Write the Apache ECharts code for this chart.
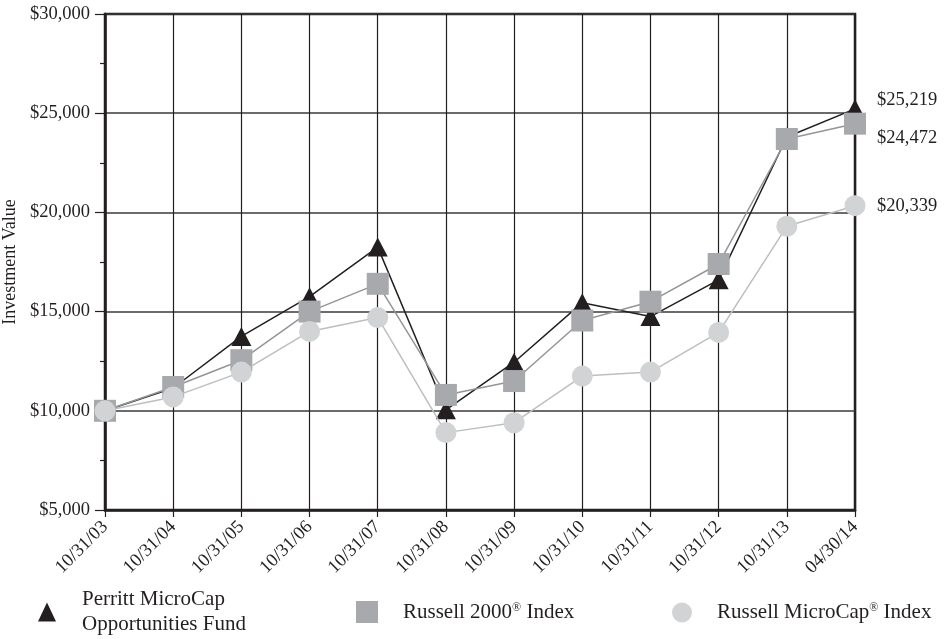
<!DOCTYPE html>
<html>
<head>
<meta charset="utf-8">
<script src="https://cdn.jsdelivr.net/npm/echarts@6/dist/echarts.min.js"></script>
<style>
html,body{margin:0;padding:0;background:#fff;}
#chart{width:950px;height:639px;}
</style>
</head>
<body>
<div id="chart"></div>
<script>
var categories = ['10/31/03','10/31/04','10/31/05','10/31/06','10/31/07','10/31/08','10/31/09','10/31/10','10/31/11','10/31/12','10/31/13','04/30/14'];
var perritt = [10000, 11150, 13750, 15750, 18250, 10050, 12450, 15450, 14750, 16600, 23800, 25219];
var russell2000 = [10000, 11200, 12550, 15000, 16400, 10800, 11500, 14550, 15500, 17400, 23700, 24472];
var russellMicro = [10000, 10700, 11950, 14000, 14700, 8900, 9400, 11750, 11950, 13950, 19300, 20339];
var seriesNames = ['Perritt MicroCap Opportunities Fund', 'Russell 2000® Index', 'Russell MicroCap® Index'];
var yTicks = [5000, 10000, 15000, 20000, 25000, 30000];

var FONT = '"Liberation Serif", "Times New Roman", serif';
var TXT = '#231f20';
function money(v){ return '$' + Number(v).toLocaleString('en-US'); }
function supReg(name){ return name.replace('®', '{sup|®}'); }
var legendRich = {sup: {fontFamily: FONT, fontSize: 12, color: TXT, verticalAlign: 'top', padding: [0,0,8,0]}};

var chart = echarts.init(document.getElementById('chart'), null, {renderer:'canvas'});
var option = {
  backgroundColor: '#ffffff',
  animation: false,
  textStyle: {fontFamily: FONT, color: TXT},
  grid: {left: 105, right: 95, top: 14, bottom: 129, show: true, borderColor: TXT, borderWidth: 2.5, containLabel: false, outerBoundsMode: 'none'},
  legend: [
    {data: [{name: seriesNames[0], icon: 'triangle'}], left: 38, top: 587, padding: 0, itemWidth: 18, itemHeight: 19, selectedMode: false,
     formatter: function(){ return 'Perritt MicroCap\nOpportunities Fund'; },
     textStyle: {fontFamily: FONT, fontSize: 21, color: TXT, lineHeight: 25, padding: [0,0,0,21]}},
    {data: [{name: seriesNames[1], icon: 'rect'}], left: 356, top: 601, padding: 0, itemWidth: 22, itemHeight: 22, selectedMode: false,
     formatter: supReg,
     textStyle: {fontFamily: FONT, fontSize: 21, color: TXT, padding: [0,0,0,20], rich: legendRich}},
    {data: [{name: seriesNames[2], icon: 'circle'}], left: 672, top: 602, padding: 0, itemWidth: 20, itemHeight: 20, selectedMode: false,
     formatter: supReg,
     textStyle: {fontFamily: FONT, fontSize: 21, color: TXT, padding: [0,0,0,20], rich: legendRich}}
  ],
  xAxis: {
    type: 'category', data: categories, boundaryGap: false,
    axisLine: {show: true, lineStyle: {color: TXT, width: 2.5}},
    axisTick: {show: true, length: 7, lineStyle: {color: TXT, width: 1.2}},
    axisLabel: {rotate: 45, fontFamily: FONT, fontSize: 18.5, color: TXT, margin: 14},
    splitLine: {show: true, lineStyle: {color: TXT, width: 1.2}}
  },
  yAxis: {
    type: 'value', min: 5000, max: 30000, interval: 5000,
    name: 'Investment Value', nameLocation: 'middle', nameGap: 84,
    nameTextStyle: {fontFamily: FONT, fontSize: 18, color: TXT},
    axisLine: {show: true, lineStyle: {color: TXT, width: 2.5}},
    axisTick: {show: true, length: 10, lineStyle: {color: TXT, width: 1.2}},
    minorTick: {show: true, splitNumber: 2, length: 5, lineStyle: {color: TXT, width: 1.2}},
    axisLabel: {fontFamily: FONT, fontSize: 18.5, color: TXT, margin: 15, formatter: function(v){ return yTicks.indexOf(v) >= 0 ? money(v) : ''; }},
    splitLine: {show: true, lineStyle: {color: '#3a3a3a', width: 1.5}}
  },
  series: [
    {name: seriesNames[0], type: 'line', data: perritt, symbol: 'triangle', symbolSize: [20, 19],
     itemStyle: {color: '#231f20'}, lineStyle: {color: '#231f20', width: 1.5}, z: 3,
     endLabel: {show: true, formatter: function(p){ return money(p.value); }, fontFamily: FONT, fontSize: 18.5, color: TXT, distance: 5, offset: [17, -9]}},
    {name: seriesNames[1], type: 'line', data: russell2000, symbol: 'rect', symbolSize: 22,
     itemStyle: {color: '#a7a9ac'}, lineStyle: {color: '#939598', width: 1.5}, z: 4,
     endLabel: {show: true, formatter: function(p){ return money(p.value); }, fontFamily: FONT, fontSize: 18.5, color: TXT, distance: 5, offset: [17, 14]}},
    {name: seriesNames[2], type: 'line', data: russellMicro, symbol: 'circle', symbolSize: 21,
     itemStyle: {color: '#d1d3d4'}, lineStyle: {color: '#bcbec0', width: 1.5}, z: 5,
     endLabel: {show: true, formatter: function(p){ return money(p.value); }, fontFamily: FONT, fontSize: 18.5, color: TXT, distance: 5, offset: [17, 0]}}
  ]
};
chart.setOption(option);
</script>
</body>
</html>
